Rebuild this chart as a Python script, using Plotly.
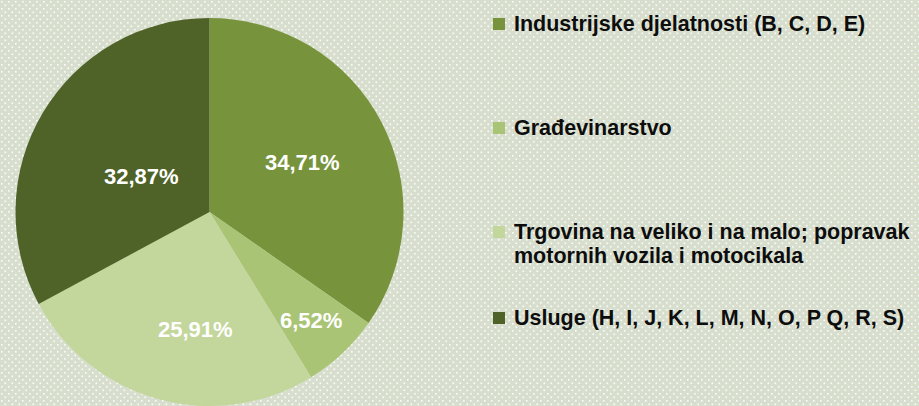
import base64
import plotly.graph_objects as go

# ---- data ----
categories = [
    "Industrijske djelatnosti (B, C, D, E)",
    "Građevinarstvo",
    "Trgovina na veliko i na malo; popravak<br>motornih vozila i motocikala",
    "Usluge (H, I, J, K, L, M, N, O, P Q, R, S)",
]
shares = [34.71, 6.52, 25.91, 32.87]
value_labels = ["34,71%", "6,52%", "25,91%", "32,87%"]

# ---- style ----
W, H = 919, 406
colors = ["#77933C", "#A9C474", "#C3D69B", "#4F6228"]
bg = "#d8decd"
font_family = "Liberation Sans, Arial, Helvetica, sans-serif"

# label positions (pixels) for the in-slice percentage labels
label_px = [(302, 162), (311, 320), (195, 329), (141, 176)]
# legend row vertical centres (pixels): per item, per line
legend_rows = [[24], [128], [232, 256], [318]]
legend_marker_x = (493, 505)
legend_text_x = 512


def px_x(x):
    return x / W


def px_y(y):
    return 1 - y / H


# dotted background pattern as an SVG image
svg = f'''<svg xmlns="http://www.w3.org/2000/svg" width="{W}" height="{H}">
<defs><pattern id="p" width="7" height="7" patternUnits="userSpaceOnUse">
<rect x="1" y="1" width="1.6" height="1.6" fill="#ffffff" fill-opacity="0.9"/>
<rect x="4.5" y="4.5" width="1.6" height="1.6" fill="#ffffff" fill-opacity="0.9"/>
</pattern></defs>
<rect width="{W}" height="{H}" fill="{bg}"/>
<rect width="{W}" height="{H}" fill="url(#p)"/>
</svg>'''
svg_uri = "data:image/svg+xml;base64," + base64.b64encode(svg.encode()).decode()

fig = go.Figure()
fig.add_trace(go.Pie(
    labels=categories,
    values=shares,
    sort=False,
    direction="clockwise",
    rotation=0,
    marker=dict(colors=colors, line=dict(width=0)),
    textinfo="none",
    hoverinfo="label+percent",
    domain=dict(x=[15.5 / W, 403.5 / W], y=[0, 388 / H]),
    showlegend=False,
))

annotations = []
for txt, (lx, ly) in zip(value_labels, label_px):
    annotations.append(dict(
        x=px_x(lx), y=px_y(ly), xref="paper", yref="paper",
        text=txt, showarrow=False, xanchor="center", yanchor="middle",
        font=dict(family=font_family, size=22, color="#ffffff", weight="bold"),
    ))

shapes = []
for cat, col, rows in zip(categories, colors, legend_rows):
    lines = cat.split("<br>")
    yc = rows[0]
    shapes.append(dict(
        type="rect", xref="paper", yref="paper",
        x0=px_x(legend_marker_x[0]), x1=px_x(legend_marker_x[1]),
        y0=px_y(yc - 6), y1=px_y(yc + 6),
        fillcolor=col, line=dict(width=0),
    ))
    for line, ly in zip(lines, rows):
        annotations.append(dict(
            x=px_x(legend_text_x), y=px_y(ly), xref="paper", yref="paper",
            text=line, showarrow=False, xanchor="left", yanchor="middle",
            font=dict(family=font_family, size=21.5, color="#0d0d0d", weight="bold"),
        ))

fig.update_layout(
    width=W, height=H,
    margin=dict(l=0, r=0, t=0, b=0),
    paper_bgcolor=bg,
    plot_bgcolor=bg,
    images=[dict(source=svg_uri, xref="paper", yref="paper", x=0, y=1,
                 sizex=1, sizey=1, xanchor="left", yanchor="top",
                 sizing="stretch", layer="below")],
    annotations=annotations,
    shapes=shapes,
)

fig.write_html(
    "out.html",
    config={"displayModeBar": False},
    post_script="document.body.style.margin='0';document.body.style.overflow='hidden';",
)
